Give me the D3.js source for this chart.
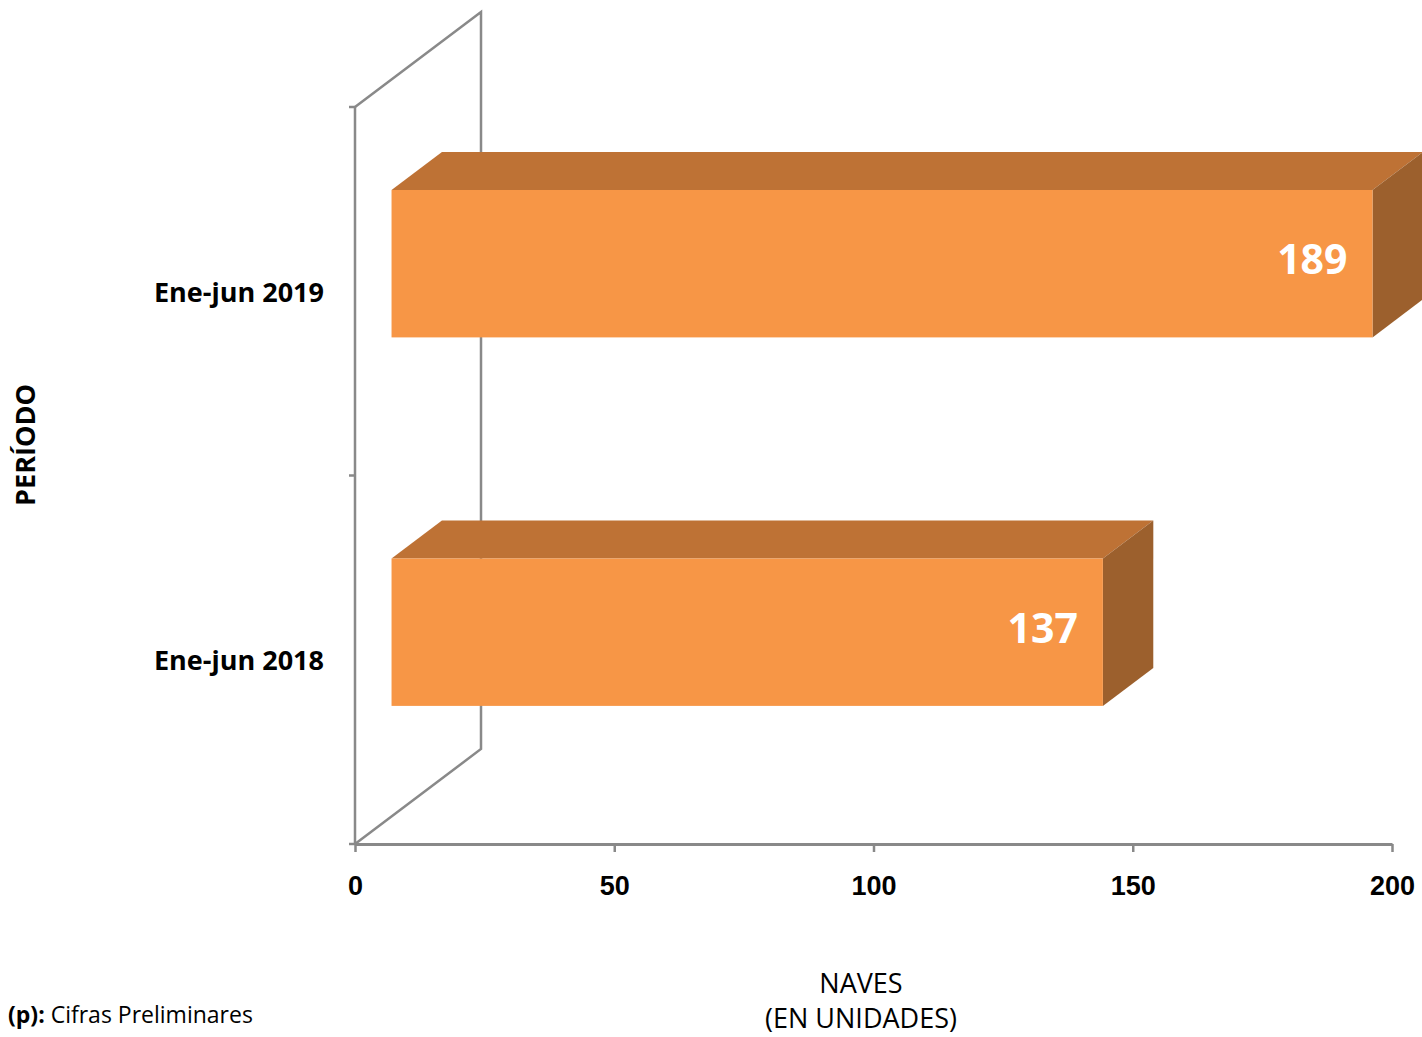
<!DOCTYPE html>
<html>
<head>
<meta charset="utf-8">
<script src="https://cdn.jsdelivr.net/npm/d3@7"></script>
<style>
  body { margin: 0; background: #fff; }
  svg { display: block; font-family: "Open Sans", sans-serif; }
</style>
</head>
<body>
<div id="chart"></div>
<script>
// data
const periods = ["Ene-jun 2018", "Ene-jun 2019"];
const naves = [137, 189];
const xTicks = [0, 50, 100, 150, 200];

const W = 1422, H = 1037;
const svg = d3.select("#chart").append("svg")
  .attr("width", W).attr("height", H);

// front plane of the plot
const x = d3.scaleLinear().domain([0, 200]).range([355, 1392]);
const y = d3.scaleBand().domain(periods).range([844, 107]);

// 3d depth (full wall depth)
const depthX = 126, depthY = -95;
const barFront = 0.29, barBack = 0.69; // fraction of depth
const barThick = y.step() * 0.4;
const axisColor = "#898989";

// back wall / floor outline
const wall = svg.append("g").attr("fill", "none")
  .attr("stroke", axisColor).attr("stroke-width", 2.5);
wall.append("path")
  .attr("d", `M${x(0)},${y.range()[1]} L${x(0) + depthX},${y.range()[1] + depthY}
              L${x(0) + depthX},${y.range()[0] + depthY} L${x(0)},${y.range()[0]}`);

// x axis
const xAxis = svg.append("g")
  .attr("transform", `translate(0,${y.range()[0]})`)
  .call(d3.axisBottom(x).tickValues(xTicks).tickSize(8).tickSizeOuter(0).tickPadding(24));
xAxis.select(".domain").attr("stroke", axisColor).attr("stroke-width", 3);
xAxis.selectAll(".tick line").attr("stroke", axisColor).attr("stroke-width", 2.5);
xAxis.selectAll(".tick text")
  .attr("fill", "#000").style("font-size", "27px").style("font-weight", "bold")
  .attr("font-family", null);

// y axis (front left edge)
const yAxisG = svg.append("g").attr("stroke", axisColor).attr("stroke-width", 2.5);
yAxisG.append("line")
  .attr("x1", x(0)).attr("x2", x(0))
  .attr("y1", y.range()[1]).attr("y2", y.range()[0]);
yAxisG.selectAll("line.tk")
  .data([0, 1, 2])
  .join("line").attr("class", "tk")
  .attr("x1", x(0) - 6).attr("x2", x(0))
  .attr("y1", i => y.range()[0] - i * y.step())
  .attr("y2", i => y.range()[0] - i * y.step());

// bars
const bars = svg.append("g");
periods.forEach((p, i) => {
  const v = naves[i];
  const fx = depthX * barFront, fy = depthY * barFront;
  const bx = depthX * barBack, by = depthY * barBack;
  const x0 = x(0) + fx, x1 = x(v) + fx + 1;
  const yc = y(p) + y.bandwidth() / 2 + fy;
  const y0 = yc - barThick / 2, y1 = yc + barThick / 2;
  const ddx = bx - fx, ddy = by - fy;
  const g = bars.append("g");
  // top face
  g.append("path")
    .attr("d", `M${x0},${y0} L${x0 + ddx},${y0 + ddy} L${x1 + ddx},${y0 + ddy} L${x1},${y0} Z`)
    .attr("fill", "#BE7235");
  // right face
  g.append("path")
    .attr("d", `M${x1},${y0} L${x1 + ddx},${y0 + ddy} L${x1 + ddx},${y1 + ddy} L${x1},${y1} Z`)
    .attr("fill", "#9C602D");
  // front face
  g.append("rect")
    .attr("x", x0).attr("y", y0)
    .attr("width", x1 - x0).attr("height", y1 - y0)
    .attr("fill", "#F79646");
  // value
  g.append("text")
    .attr("x", x1 - 25).attr("y", yc - 4)
    .attr("dy", "0.36em")
    .attr("text-anchor", "end")
    .attr("fill", "#fff")
    .style("font-size", "41px").style("font-weight", "bold")
    .text(v);

  // category label
  svg.append("text")
    .attr("x", 324).attr("y", y(p) + y.bandwidth() / 2 + 1)
    .attr("dy", "0.36em")
    .attr("text-anchor", "end")
    .style("font-size", "27px").style("font-weight", "bold")
    .text(p);
});

// axis titles
svg.append("text")
  .attr("transform", "translate(35,445) rotate(-90)")
  .attr("text-anchor", "middle")
  .style("font-size", "27px").style("font-weight", "bold")
  .text("PERÍODO");

svg.append("text")
  .attr("x", 861).attr("y", 993)
  .attr("text-anchor", "middle")
  .style("font-size", "27px")
  .text("NAVES");
svg.append("text")
  .attr("x", 861).attr("y", 1028)
  .attr("text-anchor", "middle")
  .style("font-size", "27px")
  .text("(EN UNIDADES)");

// footnote
const note = svg.append("text")
  .attr("x", 8).attr("y", 1023)
  .style("font-size", "23px");
note.append("tspan").style("font-weight", "bold").text("(p):");
note.append("tspan").text(" Cifras Preliminares");
</script>
</body>
</html>
